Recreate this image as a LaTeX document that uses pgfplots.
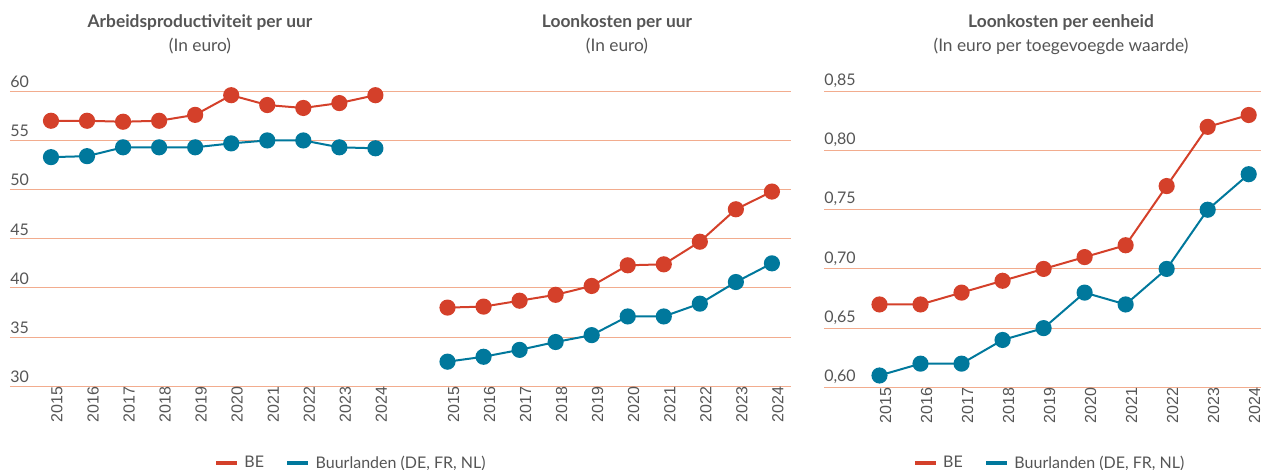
\documentclass[border=0pt]{standalone}
\usepackage{pgfplots}
\pgfplotsset{compat=1.18}
\usepackage{fontspec}
\setmainfont{Lato}
\newfontfamily\arialf{Liberation Sans}
\definecolor{bered}{HTML}{D4402A}
\definecolor{buteal}{HTML}{00789C}
\definecolor{gridc}{HTML}{F2AC8E}
\definecolor{txt}{HTML}{555555}

\pgfplotsset{
  panel/.style={
    scale only axis, clip=false,
    axis line style={draw=none},
    major tick length=0pt,
    ymajorgrids, grid style={gridc, line width=0.8pt},
    tick label style={text=txt},
    yticklabel style={anchor=south west, inner sep=0pt, yshift=2.5pt,
      font=\fontsize{12}{14}\selectfont},
    xticklabel style={rotate=90, anchor=east, inner sep=0pt, yshift=-4.5pt,
      font=\arialf\fontsize{12}{14}\selectfont},
    /pgf/number format/assume math mode=true,
    legend style={draw=none, fill=none, text=txt, anchor=center,
      font=\fontsize{12}{14}\selectfont, legend columns=-1,
      /tikz/every odd column/.append style={column sep=2pt},
      /tikz/every even column/.append style={column sep=14pt}},
    legend image code/.code={\draw[#1, line width=3pt] (0pt,0pt) -- (15.75pt,0pt);},
    unbounded coords=jump,
  },
  be/.style={bered, line width=1.5pt, mark=*, mark size=5.3pt, mark options={fill=bered, draw=bered}},
  bu/.style={buteal, line width=1.5pt, mark=*, mark size=5.3pt, mark options={fill=buteal, draw=buteal}},
}

\begin{document}
\begin{tikzpicture}
\path[use as bounding box] (0,0) rectangle (945.75pt,352.5pt);

% panels 1 and 2 share one y scale
\begin{axis}[panel,
  at={(7.5pt,62.8pt)}, anchor=south west,
  width=585.5pt, height=221.25pt,
  xmin=-1.137, xmax=20.52, ymin=30, ymax=60,
  ytick={30,35,40,45,50,55,60},
  xtick={0,1,2,3,4,5,6,7,8,9,11,12,13,14,15,16,17,18,19,20},
  xticklabels={2015,2016,2017,2018,2019,2020,2021,2022,2023,2024,2015,2016,2017,2018,2019,2020,2021,2022,2023,2024},
  legend style={at={(0.437,-0.26)}},
]
\addplot[be] coordinates {
  (0,57.0) (1,57.0) (2,56.9) (3,57.0) (4,57.6) (5,59.6) (6,58.6) (7,58.3) (8,58.8) (9,59.6)
  (10,nan)
  (11,38.0) (12,38.1) (13,38.7) (14,39.3) (15,40.2) (16,42.3) (17,42.4) (18,44.7) (19,48.0) (20,49.8)
};
\addplot[bu] coordinates {
  (0,53.3) (1,53.4) (2,54.3) (3,54.3) (4,54.3) (5,54.7) (6,55.0) (7,55.0) (8,54.3) (9,54.2)
  (10,nan)
  (11,32.5) (12,33.0) (13,33.7) (14,34.5) (15,35.2) (16,37.1) (17,37.1) (18,38.4) (19,40.6) (20,42.5)
};
\legend{BE, {Buurlanden (DE, FR, NL)}}
\end{axis}

% panel 3
\begin{axis}[panel,
  at={(618pt,62pt)}, anchor=south west,
  width=327.75pt, height=222pt,
  xmin=-1.353, xmax=9.3, ymin=0.6, ymax=0.85,
  ytick={0.60,0.65,0.70,0.75,0.80,0.85},
  yticklabel={\pgfmathprintnumber[fixed, fixed zerofill, precision=2, use comma]{\tick}},
  xtick={0,...,9},
  xticklabels={2015,2016,2017,2018,2019,2020,2021,2022,2023,2024},
  legend style={at={(0.517,-0.256)}},
]
\addplot[be] coordinates {
  (0,0.67) (1,0.67) (2,0.68) (3,0.69) (4,0.70) (5,0.71) (6,0.72) (7,0.77) (8,0.82) (9,0.83)
};
\addplot[bu] coordinates {
  (0,0.61) (1,0.62) (2,0.62) (3,0.64) (4,0.65) (5,0.68) (6,0.67) (7,0.70) (8,0.75) (9,0.78)
};
\legend{BE, {Buurlanden (DE, FR, NL)}}
\end{axis}

\begin{scope}[every node/.style={text=txt, anchor=base, inner sep=0pt}]
\node[font=\bfseries\fontsize{13}{15}\selectfont] at (150pt,331.5pt) {Arbeidsproductiviteit per uur};
\node[font=\fontsize{13}{15}\selectfont] at (150pt,314pt) {(In euro)};
\node[font=\bfseries\fontsize{13}{15}\selectfont] at (462.75pt,331.5pt) {Loonkosten per uur};
\node[font=\fontsize{13}{15}\selectfont] at (462.75pt,314pt) {(In euro)};
\node[font=\bfseries\fontsize{13}{15}\selectfont] at (795.75pt,331.5pt) {Loonkosten per eenheid};
\node[font=\fontsize{13}{15}\selectfont] at (795.75pt,314pt) {(In euro per toegevoegde waarde)};
\end{scope}
\end{tikzpicture}
\end{document}
